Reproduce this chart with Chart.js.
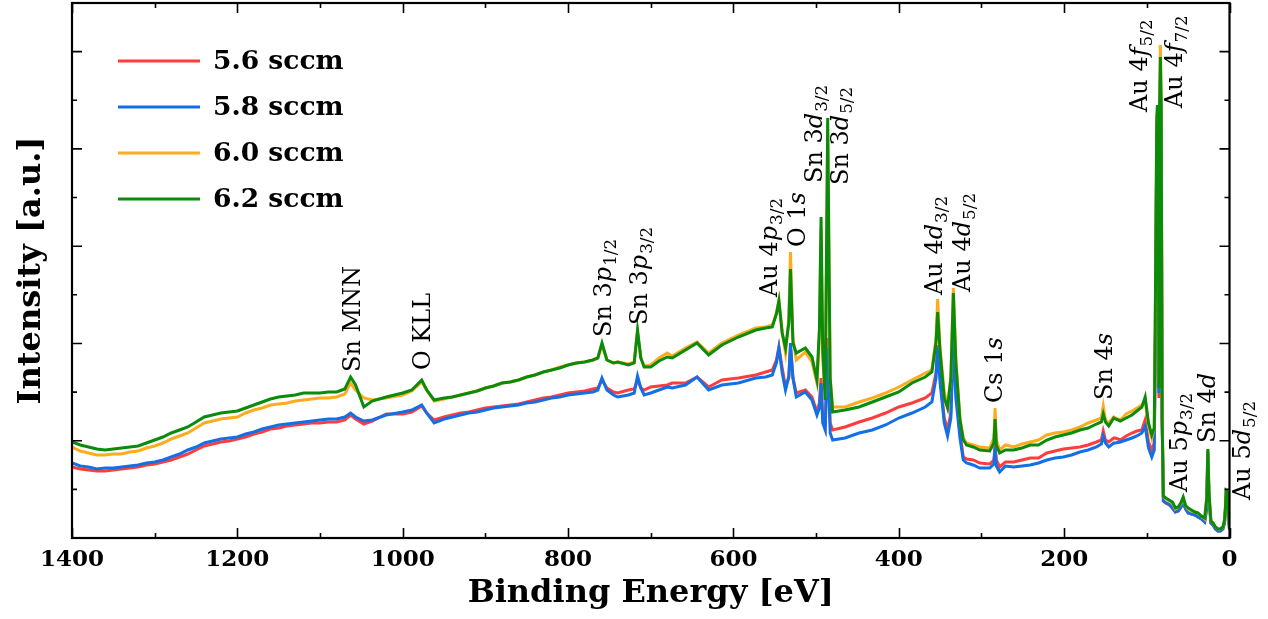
<!DOCTYPE html>
<html>
<head>
<meta charset="utf-8">
<title>XPS survey spectra</title>
<script src="https://cdn.jsdelivr.net/npm/chart.js@4/dist/chart.umd.min.js"></script>
<style>
  html, body { margin: 0; padding: 0; background: #fff; }
  canvas { display: block; }
</style>
</head>
<body>
<canvas id="c" width="1268" height="619"></canvas>
<script>
// Binding energy grid (eV), shared by all four spectra
const energy = [
  1400,1390,1380,1370,1360,1350,1340,1330,1320,1310,
  1300,1290,1280,1270,1260,1250,1240,1230,1220,1210,
  1200,1190,1180,1170,1160,1150,1140,1130,1120,1110,
  1100,1090,1080,1070,1063,1057,1047,1037,
  1020,1000,989,977,971,962,950,940,930,920,
  910,900,890,880,870,860,850,840,830,820,
  810,800,790,780,770,764,759,753,745,740,
  727,720,716,712,708,700,690,680,674,
  658,644,630,614,594,573,561,553,548,545,
  541,537,533,531,528,524,513,505,499,496,
  494,492,489,486,483,480,
  465,448,432,416,400,384,368,360,355,353,
  350,345,341,337,334,331,326,322,318,310,
  302,290,285,283.5,282,278,271,261,251,241,
  231,221,211,201,191,181,171,161,155,152.7,
  150,146,140,138,132,125,118,112,106,102,
  98,94,91,89.5,88,87.2,86.3,85.4,84.5,83.6,
  82.6,81.5,80,77,73,69,65.5,62,59,56,
  53,50,46,42,38,34,30,27.5,26.2,24.8,
  22.5,20,17,14,11,8,6,5,4,3,
  2,1,0
];

// Intensity (a.u.) for each O2 flow
const flow56 = [
  71,69,68,67,67,68,69,70,71,73, 74,76,78,81,84,88,92,94,96,97,
  99,101,104,106,109,110,112,113,114,115, 115,116,116,118,123,119,114,117,
  124,124,126,132,125,118,121,123,125,126, 128,130,131,132,133,134,136,138,140,141,
  143,145,146,147,149,150,158,150,146,145, 148,149,158,150,148,151,152,153,155,
  155,161,151,158,160,163,166,168,178,191, 170,151,160,190,160,145,148,141,126,135,
  160,120,111,200,115,108,
  111,116,120,125,131,135,140,145,165,193, 160,120,108,125,205,150,105,81,79,78,
  75,74,78,93,78,71,76,76,78,80, 80,85,87,89,90,91,93,96,98,107,
  98,96,100,100,98,102,105,107,108,118, 96,88,95,200,390,400,380,140,380,440,
  400,120,37,35,33,30,26,27,30,35, 29,25,24,23,21,19,16,30,85,40,
  15,13,9,7,7,9,15,27,44,43, 37,20,8
];
const flow58 = [
  75,72,71,69,70,70,71,72,73,75, 76,78,81,84,88,91,95,97,99,100,
  101,104,106,109,111,113,114,115,116,117, 118,119,119,121,125,121,117,118,
  123,126,128,133,125,115,119,121,123,125, 126,128,130,131,132,133,135,136,138,140,
  141,143,144,145,146,148,160,148,143,141, 143,145,162,150,143,145,148,151,150,
  153,161,148,153,155,160,161,163,175,190, 165,148,162,195,160,141,146,138,123,130,
  155,115,108,190,105,98,
  100,105,108,113,120,125,131,136,160,191, 155,115,102,120,200,140,100,78,75,73,
  70,70,74,91,72,66,72,71,72,73, 75,78,80,81,83,86,88,91,94,102,
  95,91,95,95,96,98,100,102,105,112, 90,81,88,210,400,410,390,145,400,460,
  420,120,37,35,34,30,26,27,31,35, 29,25,24,23,21,19,16,30,86,40,
  15,13,9,7,7,9,15,27,44,43, 37,20,8
];
const flow60 = [
  91,87,85,83,83,84,84,86,87,90, 92,95,99,102,105,110,115,117,119,120,
  121,125,128,130,133,134,135,137,138,139, 140,140,141,144,155,148,140,138,
  140,143,147,156,148,137,139,141,143,145, 147,150,152,155,156,158,161,163,166,168,
  171,173,175,176,178,180,193,178,175,176, 174,176,206,180,172,173,180,185,182,
  190,196,185,195,203,210,211,213,225,238, 205,185,220,286,200,178,186,176,155,200,
  310,180,140,405,160,131,
  131,136,140,145,151,158,165,168,200,239, 190,145,133,160,250,180,120,100,95,93,
  91,90,100,130,98,88,93,91,94,96, 98,103,105,106,108,111,115,118,120,132,
  118,115,121,120,118,124,127,130,133,137, 112,100,110,240,415,425,410,155,430,493,
  440,130,42,39,37,35,29,31,34,40, 32,29,27,26,25,22,19,40,88,45,
  17,15,11,9,9,11,18,30,47,46, 40,22,9
];
const flow62 = [
  96,93,91,89,88,89,90,91,92,95, 98,101,105,108,111,116,121,123,125,126,
  127,130,133,136,139,141,142,143,145,145, 145,146,146,149,161,153,131,137,
  141,145,148,158,148,138,140,141,143,145, 147,150,152,155,156,158,161,163,166,168,
  170,173,175,176,178,180,195,178,175,176, 173,175,208,180,171,171,177,181,180,
  188,195,183,193,201,208,210,211,224,237, 205,190,215,269,195,185,190,181,158,210,
  321,190,138,420,160,126,
  128,131,136,141,146,155,161,166,195,226, 185,140,130,160,245,175,118,98,93,91,
  88,87,95,119,93,85,88,88,90,93, 93,98,101,103,105,108,110,114,116,124,
  116,112,120,119,117,120,123,127,131,141, 115,103,110,250,420,433,425,150,430,481,
  430,120,42,40,38,36,30,31,35,41, 32,30,28,26,25,22,20,40,89,45,
  17,15,11,9,9,11,18,30,47,46, 40,22,9
];

const seriesNames = ['5.6 sccm', '5.8 sccm', '6.0 sccm', '6.2 sccm'];
const seriesColors = ['#ff3d3d', '#1270e6', '#ffab1f', '#0a8c0a'];
const seriesValues = [flow56, flow58, flow60, flow62];

// Axis extents
const eMin = 0, eMax = 1400, eMajor = 200, eMinor = 100;
const iMax = 535, iDivisions = 11;

// Peak assignments: [text, style] runs ('' roman, 'i' italic, 's' subscript),
// anchored at a binding energy (text baseline) and an intensity (text start)
const peakLabels = [
  { runs: [['Sn MNN', '']], e: 1051.6, v: 166 },
  { runs: [['O KLL', '']], e: 966.6, v: 168 },
  { runs: [['Sn 3', ''], ['p', 'i'], ['1/2', 's']], e: 748.4, v: 201 },
  { runs: [['Sn 3', ''], ['p', 'i'], ['3/2', 's']], e: 704.8, v: 213 },
  { runs: [['Au 4', ''], ['p', 'i'], ['3/2', 's']], e: 547.6, v: 241 },
  { runs: [['O 1', ''], ['s', 'i']], e: 513.4, v: 291 },
  { runs: [['Sn 3', ''], ['d', 'i'], ['3/2', 's']], e: 493.2, v: 355 },
  { runs: [['Sn 3', ''], ['d', 'i'], ['5/2', 's']], e: 462.0, v: 353 },
  { runs: [['Au 4', ''], ['d', 'i'], ['3/2', 's']], e: 348.0, v: 243 },
  { runs: [['Au 4', ''], ['d', 'i'], ['5/2', 's']], e: 313.8, v: 246 },
  { runs: [['Cs 1', ''], ['s', 'i']], e: 275.4, v: 135 },
  { runs: [['Sn 4', ''], ['s', 'i']], e: 142.4, v: 138 },
  { runs: [['Au 4', ''], ['f', 'i'], ['5/2', 's']], e: 100.0, v: 426 },
  { runs: [['Au 4', ''], ['f', 'i'], ['7/2', 's']], e: 57.7, v: 430 },
  { runs: [['Au 5', ''], ['p', 'i'], ['3/2', 's']], e: 50.9, v: 46 },
  { runs: [['Sn 4', ''], ['d', 'i']], e: 17.4, v: 95 },
  { runs: [['Au 5', ''], ['d', 'i'], ['5/2', 's']], e: -24.9, v: 38 }
];

const SERIF = "'DejaVu Serif', 'Liberation Serif', serif";

// Inward tick marks on all four sides plus the closed frame
const framePlugin = {
  id: 'frame',
  afterDraw(chart) {
    const { ctx, chartArea: a, scales: { x, y } } = chart;
    ctx.save();
    ctx.strokeStyle = '#000';
    ctx.lineWidth = 1.6;
    ctx.beginPath();
    for (let e = eMin; e <= eMax; e += eMinor) {
      const px = Math.round(x.getPixelForValue(e)) + 0.5;
      const len = e % eMajor === 0 ? 10 : 5;
      ctx.moveTo(px, a.bottom); ctx.lineTo(px, a.bottom - len);
      ctx.moveTo(px, a.top); ctx.lineTo(px, a.top + len);
    }
    for (let k = 0; k <= iDivisions; k++) {
      const py = y.getPixelForValue(k * iMax / iDivisions);
      const len = k % 2 === 0 ? 10 : 5;
      ctx.moveTo(a.left, py); ctx.lineTo(a.left + len, py);
      ctx.moveTo(a.right, py); ctx.lineTo(a.right - len, py);
    }
    ctx.stroke();
    ctx.lineWidth = 2.2;
    ctx.strokeRect(a.left, a.top, a.right - a.left, a.bottom - a.top);
    ctx.restore();
  }
};

// Series key in the upper-left corner of the plot
const keyPlugin = {
  id: 'key',
  afterDraw(chart) {
    const { ctx, chartArea: a } = chart;
    ctx.save();
    ctx.font = `bold 26.5px ${SERIF}`;
    ctx.textBaseline = 'middle';
    ctx.textAlign = 'left';
    chart.data.datasets.forEach((ds, i) => {
      const yy = a.top + 58 + i * 46;
      ctx.strokeStyle = ds.borderColor;
      ctx.lineWidth = 3;
      ctx.beginPath();
      ctx.moveTo(a.left + 46, yy);
      ctx.lineTo(a.left + 128, yy);
      ctx.stroke();
      ctx.fillStyle = '#000';
      ctx.fillText(ds.label, a.left + 141, yy + 1);
    });
    ctx.restore();
  }
};

// Vertical peak labels
const peakLabelPlugin = {
  id: 'peakLabels',
  afterDraw(chart) {
    const { ctx, scales: { x, y } } = chart;
    const size = 24;
    ctx.save();
    ctx.fillStyle = '#000';
    ctx.textBaseline = 'alphabetic';
    ctx.textAlign = 'left';
    peakLabels.forEach(lab => {
      ctx.save();
      ctx.translate(x.getPixelForValue(lab.e), y.getPixelForValue(lab.v));
      ctx.rotate(-Math.PI / 2);
      let pos = 0;
      lab.runs.forEach(([t, style]) => {
        const fs = style === 's' ? size * 0.7 : size;
        ctx.font = `${style === 'i' ? 'italic ' : ''}${fs}px ${SERIF}`;
        const shift = style === 's' ? size * 0.2 : 0;
        ctx.fillText(t, pos, shift);
        pos += ctx.measureText(t).width + (style === 'i' ? 1 : 0);
      });
      ctx.restore();
    });
    ctx.restore();
  }
};

const order = [4, 3, 2, 1];
const datasets = seriesValues.map((vals, i) => ({
  label: seriesNames[i],
  data: energy.map((e, j) => ({ x: e, y: vals[j] })),
  borderColor: seriesColors[i],
  backgroundColor: seriesColors[i],
  borderWidth: 3,
  pointRadius: 0,
  tension: 0,
  fill: false,
  order: order[i]
}));

new Chart(document.getElementById('c'), {
  type: 'line',
  data: { datasets },
  options: {
    responsive: false,
    animation: false,
    events: [],
    layout: { padding: { top: 3, right: 38.5, bottom: 0, left: 0 } },
    scales: {
      x: {
        type: 'linear',
        reverse: true,
        min: eMin,
        max: eMax,
        grid: { display: false, drawTicks: false },
        border: { display: false },
        ticks: {
          stepSize: eMajor,
          color: '#000',
          padding: 8,
          maxRotation: 0,
          callback: v => String(v),
          font: { family: SERIF, size: 23, weight: 'bold' }
        },
        title: {
          display: true,
          text: 'Binding Energy [eV]',
          color: '#000',
          font: { family: SERIF, size: 32, weight: 'bold' },
          padding: { top: 0, bottom: 6 }
        },
        afterFit(s) { s.height = 81; }
      },
      y: {
        min: 0,
        max: iMax,
        grid: { display: false, drawTicks: false },
        border: { display: false },
        ticks: { display: false },
        title: {
          display: true,
          text: 'Intensity [a.u.]',
          color: '#000',
          font: { family: SERIF, size: 32, weight: 'bold' },
          padding: { top: 12, bottom: 0 }
        },
        afterFit(s) { s.width = 72; }
      }
    },
    plugins: {
      legend: { display: false },
      tooltip: { enabled: false }
    }
  },
  plugins: [framePlugin, keyPlugin, peakLabelPlugin]
});
</script>
</body>
</html>
